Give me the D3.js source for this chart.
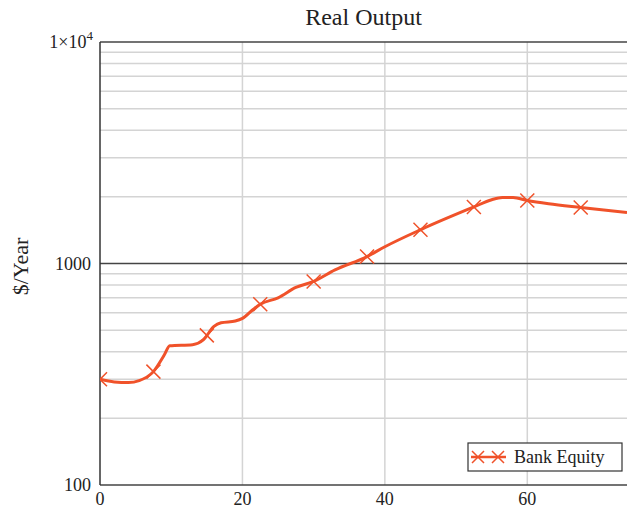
<!DOCTYPE html>
<html lang="en">
<head>
<meta charset="UTF-8">
<title>Real Output</title>
<script src="https://cdn.jsdelivr.net/npm/d3@7"></script>
<style>
    body { margin: 0; background: #fff; }
    text { font-family: "Liberation Serif", "Times New Roman", serif; fill: #222; }
</style>
</head>
<body>
<script>
    // data
    const years = [0, 2, 4, 5.5, 7.5, 9, 9.8, 13, 14.5, 16, 17, 19, 20, 21.5, 22.5, 25, 27.5, 30, 33, 37.5, 40, 45, 52.5, 55, 56.5, 58, 60, 63, 67.5, 74];
    const bankEquity = [300, 292, 290, 296, 325, 385, 425, 430, 452, 520, 540, 550, 565, 620, 655, 700, 780, 830, 935, 1075, 1190, 1420, 1800, 1940, 1985, 1985, 1925, 1860, 1790, 1700];
    const markerYears = [0, 7.5, 15, 22.5, 30, 37.5, 45, 52.5, 60, 67.5];
    const xTicks = [0, 20, 40, 60];
    const yMajor = [100, 1000, 10000];

    const W = 627, H = 510;
    const margin = {top: 42, right: 0, bottom: 25, left: 100};
    const width = W - margin.left - margin.right,
        height = H - margin.top - margin.bottom;

    const x = d3.scaleLinear().domain([0, 74]).range([0, width]);
    const y = d3.scaleLog().domain([100, 10000]).range([height, 0]);

    const data = years.map((d, i) => ({x: d, y: bankEquity[i]}));
    const interp = v => {
        for (let i = 1; i < years.length; i++) {
            if (v <= years[i]) {
                const t = (v - years[i - 1]) / (years[i] - years[i - 1]);
                return Math.exp(Math.log(bankEquity[i - 1]) * (1 - t) + Math.log(bankEquity[i]) * t);
            }
        }
        return bankEquity[bankEquity.length - 1];
    };
    const color = "#f0522a";

    const svg = d3.select("body").append("svg").attr("width", W).attr("height", H);
    svg.append("defs").append("clipPath").attr("id", "plot")
        .append("rect").attr("width", width).attr("height", height);

    const chart = svg.append("g").attr("transform", `translate(${[margin.left, margin.top]})`);

    // minor gridlines
    const minor = [];
    [100, 1000].forEach(b => { for (let k = 2; k <= 9; k++) minor.push(b * k); });
    chart.selectAll(".minor").data(minor).join("line")
        .attr("x1", 0).attr("x2", width)
        .attr("y1", d => y(d)).attr("y2", d => y(d))
        .attr("stroke", "#d4d4d4").attr("stroke-width", 1.5);
    chart.selectAll(".vgrid").data(xTicks.slice(1)).join("line")
        .attr("x1", d => x(d)).attr("x2", d => x(d))
        .attr("y1", 0).attr("y2", height)
        .attr("stroke", "#d4d4d4").attr("stroke-width", 1.5);
    // major lines
    chart.selectAll(".major").data(yMajor).join("line")
        .attr("x1", 0).attr("x2", width)
        .attr("y1", d => y(d)).attr("y2", d => y(d))
        .attr("stroke", "#444").attr("stroke-width", 1.5);
    chart.append("line").attr("x1", 0).attr("x2", 0).attr("y1", 0).attr("y2", height)
        .attr("stroke", "#333").attr("stroke-width", 1.5);

    // series
    const view = chart.append("g").attr("clip-path", "url(#plot)");
    view.append("path").datum(data)
        .attr("fill", "none").attr("stroke", color).attr("stroke-width", 3)
        .attr("d", d3.line().x(d => x(d.x)).y(d => y(d.y)).curve(d3.curveMonotoneX));
    const cross = (sel, s) => sel.append("path")
        .attr("d", `M${-s},${-s}L${s},${s}M${-s},${s}L${s},${-s}`)
        .attr("stroke", color).attr("stroke-width", 1.5).attr("fill", "none");
    view.selectAll(".mk").data(markerYears).join("g")
        .attr("transform", d => `translate(${x(d)},${y(interp(d))})`)
        .each(function () { cross(d3.select(this), 7); });

    // tick labels
    chart.selectAll(".xl").data(xTicks).join("text")
        .attr("x", d => x(d)).attr("y", height + 20)
        .attr("text-anchor", "middle").attr("font-size", 18).text(d => d);
    chart.append("text").attr("x", -9).attr("y", y(100) + 6)
        .attr("text-anchor", "end").attr("font-size", 18).text("100");
    chart.append("text").attr("x", -9).attr("y", y(1000) + 6)
        .attr("text-anchor", "end").attr("font-size", 18).text("1000");
    const t4 = chart.append("text").attr("x", -7).attr("y", y(10000) + 6)
        .attr("text-anchor", "end").attr("font-size", 18);
    t4.append("tspan").text("1\u00d710");
    t4.append("tspan").attr("dy", -8).attr("font-size", 13).text("4");

    // title and axis label
    svg.append("text").attr("x", margin.left + width / 2).attr("y", 25)
        .attr("text-anchor", "middle").attr("font-size", 24).text("Real Output");
    svg.append("text").attr("transform", `translate(28,${margin.top + y(1000) + 3}) rotate(-90)`)
        .attr("text-anchor", "middle").attr("font-size", 22).text("$/Year");

    // legend
    const lg = svg.append("g").attr("transform", "translate(468,443)");
    lg.append("rect").attr("width", 154).attr("height", 28)
        .attr("fill", "#fff").attr("stroke", "#333").attr("stroke-width", 1.2);
    lg.append("line").attr("x1", 3).attr("x2", 38).attr("y1", 14).attr("y2", 14)
        .attr("stroke", color).attr("stroke-width", 2.5);
    cross(lg.append("g").attr("transform", "translate(10,14)"), 6);
    cross(lg.append("g").attr("transform", "translate(30,14)"), 6);
    lg.append("text").attr("x", 46).attr("y", 20).attr("font-size", 18).text("Bank Equity");
</script>
</body>
</html>
